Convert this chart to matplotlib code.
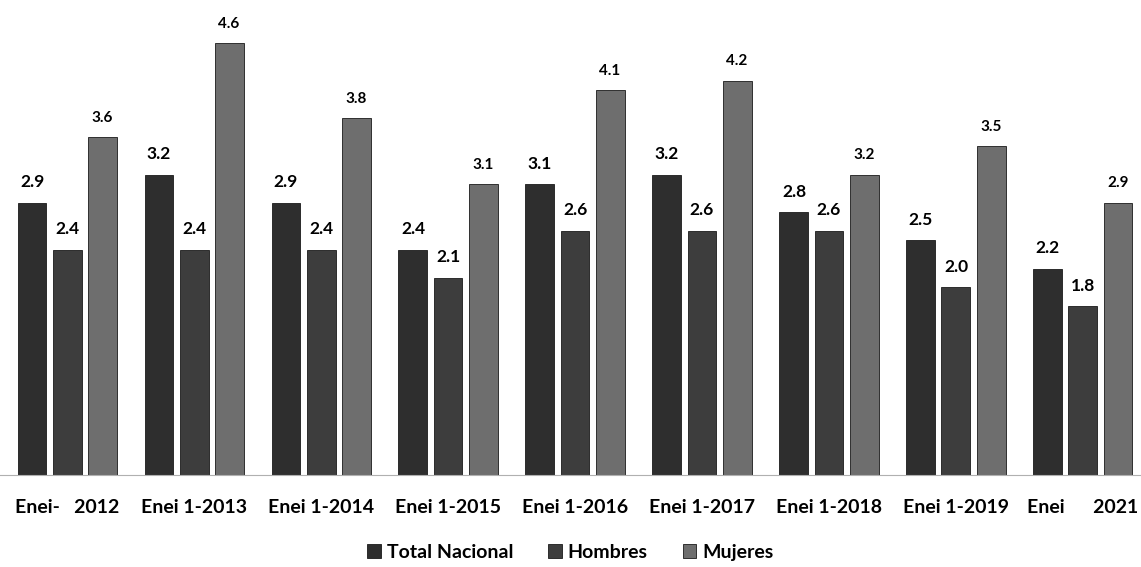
import numpy as np
import matplotlib
matplotlib.use("Agg")
import matplotlib.pyplot as plt

categories = ["Enei-   2012", "Enei 1-2013", "Enei 1-2014", "Enei 1-2015", "Enei 1-2016",
              "Enei 1-2017", "Enei 1-2018", "Enei 1-2019", "Enei      2021"]
series_names = ["Total Nacional", "Hombres", "Mujeres"]
total = [2.9, 3.2, 2.9, 2.4, 3.1, 3.2, 2.8, 2.5, 2.2]
hombres = [2.4, 2.4, 2.4, 2.1, 2.6, 2.6, 2.6, 2.0, 1.8]
mujeres = [3.6, 4.6, 3.8, 3.1, 4.1, 4.2, 3.2, 3.5, 2.9]

colors = ["#2e2e2e", "#3d3d3d", "#6e6e6e"]
plt.rcParams["font.family"] = ["Lato", "DejaVu Sans"]

fig = plt.figure(figsize=(11.41, 5.67), dpi=100)
ax = fig.add_axes([0, 0.162, 1, 0.838])

x = np.arange(len(categories))
width = 0.228
step = 0.276
label_sizes = [12.5, 12.5, 11]
for i, (vals, name, col) in enumerate(zip([total, hombres, mujeres], series_names, colors)):
    pos = x + (i - 1) * step
    bars = ax.bar(pos, vals, width, color=col, edgecolor="#1a1a1a", linewidth=0.6, label=name)
    for b, v in zip(bars, vals):
        ax.annotate(f"{v:.1f}", (b.get_x() + b.get_width() / 2, v), xytext=(0, 9),
                    textcoords="offset points", ha="center", va="bottom",
                    fontsize=label_sizes[i], fontweight="bold")

ax.set_xlim(-0.528, 8.457)
ax.set_ylim(0, 5.06)
ax.set_yticks([])
ax.set_xticks(x)
ax.set_xticklabels(categories, fontsize=14, fontweight="bold")
ax.tick_params(axis="x", length=0, pad=17)
for s in ["top", "right", "left"]:
    ax.spines[s].set_visible(False)
ax.spines["bottom"].set_color("#b0b0b0")

ax.legend(loc="center", bbox_to_anchor=(0.5, -0.162), ncol=3, frameon=False,
          prop={"size": 14, "weight": "bold"}, handlelength=0.7, handleheight=0.7,
          columnspacing=1.8, handletextpad=0.3)

plt.savefig("out.png", dpi=100)
